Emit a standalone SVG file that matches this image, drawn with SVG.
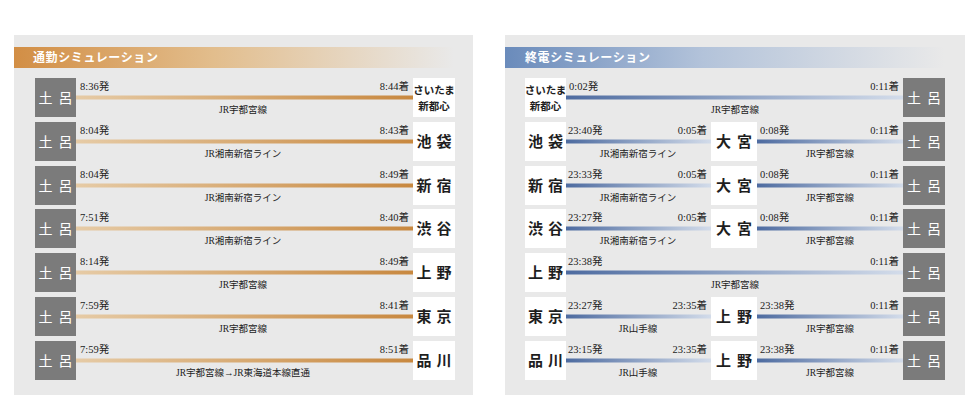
<svg xmlns="http://www.w3.org/2000/svg" width="980" height="408" viewBox="0 0 980 408">
<defs>
<linearGradient id="hdrO" x1="0" y1="0" x2="1" y2="0">
<stop offset="0" stop-color="#d28e45"/>
<stop offset="0.45" stop-color="#e2bd8c"/>
<stop offset="1" stop-color="#e9e9e9"/>
</linearGradient>
<linearGradient id="hdrB" x1="0" y1="0" x2="1" y2="0">
<stop offset="0" stop-color="#6a8bbb"/>
<stop offset="0.45" stop-color="#b3c3da"/>
<stop offset="1" stop-color="#e9e9e9"/>
</linearGradient>
<linearGradient id="lnO" x1="0" y1="0" x2="1" y2="0">
<stop offset="0" stop-color="#e6cba6"/>
<stop offset="1" stop-color="#c8883f"/>
</linearGradient>
<linearGradient id="lnB" x1="0" y1="0" x2="1" y2="0">
<stop offset="0" stop-color="#4d6ba0"/>
<stop offset="1" stop-color="#d3dcea"/>
</linearGradient>
</defs>
<style>
.panel{fill:#e9e9e9}
.dark{fill:#7b7b7b}
.white{fill:#ffffff}
.hdr{font-family:"Liberation Serif","Noto Sans CJK JP",serif;font-size:12px;fill:#ffffff;letter-spacing:0.6px;font-weight:bold}
.st{font-family:"Liberation Serif","Noto Sans CJK JP",serif;font-size:15px;fill:#1e1e1e;text-anchor:middle;font-weight:bold}
.stw{font-family:"Liberation Serif","Noto Sans CJK JP",serif;font-size:14px;fill:#ffffff;text-anchor:middle}
.st2{font-family:"Liberation Serif","Noto Sans CJK JP",serif;font-size:10.5px;fill:#1e1e1e;text-anchor:middle;font-weight:bold}
.tm{font-family:"Liberation Serif","Noto Sans CJK JP",serif;font-size:10.5px;fill:#222222}
.tme{font-family:"Liberation Serif","Noto Sans CJK JP",serif;font-size:10.5px;fill:#222222;text-anchor:end}
.ln{font-family:"Liberation Serif","Noto Sans CJK JP",serif;font-size:9.5px;fill:#222222;text-anchor:middle}
</style>
<rect x="0" y="0" width="980" height="408" fill="#ffffff"/>

<!-- Left panel -->
<g id="panel-commute">
<rect class="panel" x="14" y="35" width="459" height="360"/>
<rect x="14" y="47" width="440" height="21" fill="url(#hdrO)"/>
<text class="hdr" x="33" y="62">通勤シミュレーション</text>
</g>

<!-- Right panel -->
<g id="panel-last">
<rect class="panel" x="505" y="35" width="460" height="360"/>
<rect x="505" y="47" width="440" height="21" fill="url(#hdrB)"/>
<text class="hdr" x="525" y="62">終電シミュレーション</text>
</g>

<g id="connectors">
<!-- left lines -->
<rect x="76" y="95.5" width="337" height="4" fill="url(#lnO)"/>
<rect x="76" y="139.5" width="337" height="4" fill="url(#lnO)"/>
<rect x="76" y="183.5" width="337" height="4" fill="url(#lnO)"/>
<rect x="76" y="226.5" width="337" height="4" fill="url(#lnO)"/>
<rect x="76" y="270.5" width="337" height="4" fill="url(#lnO)"/>
<rect x="76" y="314.5" width="337" height="4" fill="url(#lnO)"/>
<rect x="76" y="358.5" width="337" height="4" fill="url(#lnO)"/>
<!-- right lines -->
<rect x="566" y="95.5" width="337" height="4" fill="url(#lnB)"/>
<rect x="566" y="139.5" width="145" height="4" fill="url(#lnB)"/>
<rect x="757" y="139.5" width="146" height="4" fill="url(#lnB)"/>
<rect x="566" y="183.5" width="145" height="4" fill="url(#lnB)"/>
<rect x="757" y="183.5" width="146" height="4" fill="url(#lnB)"/>
<rect x="566" y="226.5" width="145" height="4" fill="url(#lnB)"/>
<rect x="757" y="226.5" width="146" height="4" fill="url(#lnB)"/>
<rect x="566" y="270.5" width="337" height="4" fill="url(#lnB)"/>
<rect x="566" y="314.5" width="145" height="4" fill="url(#lnB)"/>
<rect x="757" y="314.5" width="146" height="4" fill="url(#lnB)"/>
<rect x="566" y="358.5" width="145" height="4" fill="url(#lnB)"/>
<rect x="757" y="358.5" width="146" height="4" fill="url(#lnB)"/>

<!-- left labels -->
<text class="tm" x="80" y="90">8:36発</text><text class="tme" x="409" y="90">8:44着</text><text class="ln" x="243" y="113">JR宇都宮線</text>
<text class="tm" x="80" y="134">8:04発</text><text class="tme" x="409" y="134">8:43着</text><text class="ln" x="243" y="157">JR湘南新宿ライン</text>
<text class="tm" x="80" y="178">8:04発</text><text class="tme" x="409" y="178">8:49着</text><text class="ln" x="243" y="201">JR湘南新宿ライン</text>
<text class="tm" x="80" y="221">7:51発</text><text class="tme" x="409" y="221">8:40着</text><text class="ln" x="243" y="244">JR湘南新宿ライン</text>
<text class="tm" x="80" y="265">8:14発</text><text class="tme" x="409" y="265">8:49着</text><text class="ln" x="243" y="288">JR宇都宮線</text>
<text class="tm" x="80" y="309">7:59発</text><text class="tme" x="409" y="309">8:41着</text><text class="ln" x="243" y="332">JR宇都宮線</text>
<text class="tm" x="80" y="353">7:59発</text><text class="tme" x="409" y="353">8:51着</text><text class="ln" x="243" y="376">JR宇都宮線→JR東海道本線直通</text>

<!-- right labels -->
<text class="tm" x="569" y="90">0:02発</text><text class="tme" x="899" y="90">0:11着</text><text class="ln" x="735" y="113">JR宇都宮線</text>
<text class="tm" x="568" y="134">23:40発</text><text class="tme" x="707" y="134">0:05着</text><text class="ln" x="638" y="157">JR湘南新宿ライン</text>
<text class="tm" x="760" y="134">0:08発</text><text class="tme" x="899" y="134">0:11着</text><text class="ln" x="830" y="157">JR宇都宮線</text>
<text class="tm" x="568" y="178">23:33発</text><text class="tme" x="707" y="178">0:05着</text><text class="ln" x="638" y="201">JR湘南新宿ライン</text>
<text class="tm" x="760" y="178">0:08発</text><text class="tme" x="899" y="178">0:11着</text><text class="ln" x="830" y="201">JR宇都宮線</text>
<text class="tm" x="568" y="221">23:27発</text><text class="tme" x="707" y="221">0:05着</text><text class="ln" x="638" y="244">JR湘南新宿ライン</text>
<text class="tm" x="760" y="221">0:08発</text><text class="tme" x="899" y="221">0:11着</text><text class="ln" x="830" y="244">JR宇都宮線</text>
<text class="tm" x="568" y="265">23:38発</text><text class="tme" x="899" y="265">0:11着</text><text class="ln" x="735" y="288">JR宇都宮線</text>
<text class="tm" x="568" y="309">23:27発</text><text class="tme" x="707" y="309">23:35着</text><text class="ln" x="638" y="332">JR山手線</text>
<text class="tm" x="760" y="309">23:38発</text><text class="tme" x="899" y="309">0:11着</text><text class="ln" x="830" y="332">JR宇都宮線</text>
<text class="tm" x="568" y="353">23:15発</text><text class="tme" x="707" y="353">23:35着</text><text class="ln" x="638" y="376">JR山手線</text>
<text class="tm" x="760" y="353">23:38発</text><text class="tme" x="899" y="353">0:11着</text><text class="ln" x="830" y="376">JR宇都宮線</text>
</g>

<!-- Left panel nodes -->
<g id="l-from-1"><rect class="dark" x="35" y="78" width="41" height="39"/><text class="stw" x="45.5 65.5" y="102.5">土呂</text></g>
<g id="l-to-1"><rect class="white" x="413" y="78" width="42" height="39"/><text class="st2" x="434" y="94">さいたま</text><text class="st2" x="434" y="110">新都心</text></g>
<g id="l-from-2"><rect class="dark" x="35" y="122" width="41" height="39"/><text class="stw" x="45.5 65.5" y="146.5">土呂</text></g>
<g id="l-to-2"><rect class="white" x="413" y="122" width="42" height="39"/><text class="st" x="424 444" y="147">池袋</text></g>
<g id="l-from-3"><rect class="dark" x="35" y="166" width="41" height="39"/><text class="stw" x="45.5 65.5" y="190.5">土呂</text></g>
<g id="l-to-3"><rect class="white" x="413" y="166" width="42" height="39"/><text class="st" x="424 444" y="191">新宿</text></g>
<g id="l-from-4"><rect class="dark" x="35" y="209" width="41" height="39"/><text class="stw" x="45.5 65.5" y="233.5">土呂</text></g>
<g id="l-to-4"><rect class="white" x="413" y="209" width="42" height="39"/><text class="st" x="424 444" y="234">渋谷</text></g>
<g id="l-from-5"><rect class="dark" x="35" y="253" width="41" height="39"/><text class="stw" x="45.5 65.5" y="277.5">土呂</text></g>
<g id="l-to-5"><rect class="white" x="413" y="253" width="42" height="39"/><text class="st" x="424 444" y="278">上野</text></g>
<g id="l-from-6"><rect class="dark" x="35" y="297" width="41" height="39"/><text class="stw" x="45.5 65.5" y="321.5">土呂</text></g>
<g id="l-to-6"><rect class="white" x="413" y="297" width="42" height="39"/><text class="st" x="424 444" y="322">東京</text></g>
<g id="l-from-7"><rect class="dark" x="35" y="341" width="41" height="39"/><text class="stw" x="45.5 65.5" y="365.5">土呂</text></g>
<g id="l-to-7"><rect class="white" x="413" y="341" width="42" height="39"/><text class="st" x="424 444" y="366">品川</text></g>

<!-- Right panel nodes -->
<g id="r-from-1"><rect class="white" x="525" y="78" width="41" height="39"/><text class="st2" x="545.5" y="94">さいたま</text><text class="st2" x="545.5" y="110">新都心</text></g>
<g id="r-to-1"><rect class="dark" x="903" y="78" width="42" height="39"/><text class="stw" x="914 934" y="102.5">土呂</text></g>
<g id="r-from-2"><rect class="white" x="525" y="122" width="41" height="39"/><text class="st" x="535.5 555.5" y="147">池袋</text></g>
<g id="r-via-2"><rect class="white" x="711" y="122" width="46" height="39"/><text class="st" x="723.5 744.5" y="147">大宮</text></g>
<g id="r-to-2"><rect class="dark" x="903" y="122" width="42" height="39"/><text class="stw" x="914 934" y="146.5">土呂</text></g>
<g id="r-from-3"><rect class="white" x="525" y="166" width="41" height="39"/><text class="st" x="535.5 555.5" y="191">新宿</text></g>
<g id="r-via-3"><rect class="white" x="711" y="166" width="46" height="39"/><text class="st" x="723.5 744.5" y="191">大宮</text></g>
<g id="r-to-3"><rect class="dark" x="903" y="166" width="42" height="39"/><text class="stw" x="914 934" y="190.5">土呂</text></g>
<g id="r-from-4"><rect class="white" x="525" y="209" width="41" height="39"/><text class="st" x="535.5 555.5" y="234">渋谷</text></g>
<g id="r-via-4"><rect class="white" x="711" y="209" width="46" height="39"/><text class="st" x="723.5 744.5" y="234">大宮</text></g>
<g id="r-to-4"><rect class="dark" x="903" y="209" width="42" height="39"/><text class="stw" x="914 934" y="233.5">土呂</text></g>
<g id="r-from-5"><rect class="white" x="525" y="253" width="41" height="39"/><text class="st" x="535.5 555.5" y="278">上野</text></g>
<g id="r-to-5"><rect class="dark" x="903" y="253" width="42" height="39"/><text class="stw" x="914 934" y="277.5">土呂</text></g>
<g id="r-from-6"><rect class="white" x="525" y="297" width="41" height="39"/><text class="st" x="535.5 555.5" y="322">東京</text></g>
<g id="r-via-6"><rect class="white" x="711" y="297" width="46" height="39"/><text class="st" x="723.5 744.5" y="322">上野</text></g>
<g id="r-to-6"><rect class="dark" x="903" y="297" width="42" height="39"/><text class="stw" x="914 934" y="321.5">土呂</text></g>
<g id="r-from-7"><rect class="white" x="525" y="341" width="41" height="39"/><text class="st" x="535.5 555.5" y="366">品川</text></g>
<g id="r-via-7"><rect class="white" x="711" y="341" width="46" height="39"/><text class="st" x="723.5 744.5" y="366">上野</text></g>
<g id="r-to-7"><rect class="dark" x="903" y="341" width="42" height="39"/><text class="stw" x="914 934" y="365.5">土呂</text></g>
</svg>
